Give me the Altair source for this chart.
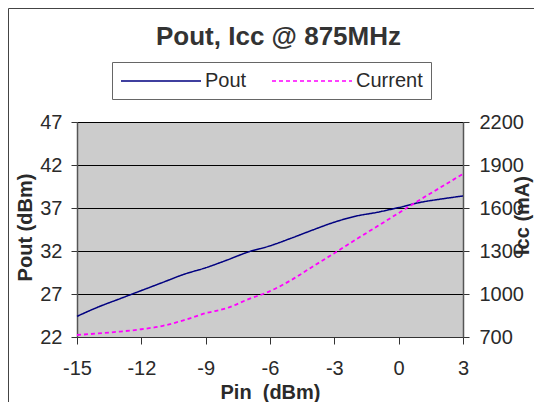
import altair as alt
import pandas as pd

# ---- data ----
pin = [-15, -14, -13, -12, -11, -10, -9, -8, -7, -6, -5, -4, -3, -2, -1, 0, 1, 2, 3]
pout = [24.4, 25.5, 26.45, 27.4, 28.35, 29.3, 30.05, 30.95, 31.9, 32.6,
        33.5, 34.45, 35.35, 36.05, 36.5, 37.05, 37.65, 38.05, 38.4]
current = [714, 725, 738, 754, 778, 818, 866, 902, 964, 1020,
           1098, 1192, 1285, 1380, 1472, 1565, 1658, 1748, 1838]
series_names = ["Pout", "Current"]
title_text = ["Pout, Icc @ 875MHz"]
x_ticks = [-15, -12, -9, -6, -3, 0, 3]
pout_ticks = [22, 27, 32, 37, 42, 47]
icc_ticks = [700, 1000, 1300, 1600, 1900, 2200]

FONT = "Liberation Sans"
TXT = "#2a2a2a"
PLAIN = "'' + datum.value"

df_p = pd.DataFrame({"Pin": pin, "value": pout, "series": "Pout"})
df_c = pd.DataFrame({"Pin": pin, "value": current, "series": "Current"})
df_t = pd.DataFrame({"t": title_text})

color_scale = alt.Scale(domain=series_names, range=["#000080", "#FF00FF"])
dash_scale = alt.Scale(domain=series_names, range=[[1, 0], [4, 3]])

legend = alt.Legend(
    orient="none", legendX=35, legendY=-60, direction="horizontal",
    title=None, symbolType="M-1,0H7", symbolSize=400, symbolStrokeWidth=1.5,
    symbolFillColor="transparent",
    labelFontSize=20, labelFont=FONT, labelColor=TXT,
    strokeColor="#666666", fillColor="white", padding=8,
    columnPadding=22, labelOffset=63,
)

x_enc = alt.X(
    "Pin:Q",
    scale=alt.Scale(domain=[-15, 3], nice=False, zero=False),
    axis=alt.Axis(
        values=x_ticks, title="Pin \u00a0(dBm)", grid=False, labelExpr=PLAIN,
        tickSize=7, labelPadding=14, labelFontSize=20, labelFont=FONT,
        labelColor=TXT, titleFontSize=20, titleFont=FONT, titleFontWeight="bold",
        titleColor=TXT, titleX=193, titleY=61, titleBaseline="alphabetic",
        titleAlign="center", domainColor="#333333", tickColor="#333333",
        labelFlush=False,
    ),
)

pout_line = alt.Chart(df_p).mark_line(strokeWidth=1.5, interpolate="monotone").encode(
    x=x_enc,
    y=alt.Y(
        "value:Q",
        scale=alt.Scale(domain=[22, 47], nice=False, zero=False),
        axis=alt.Axis(
            orient="left", values=pout_ticks, title="Pout (dBm)", labelExpr=PLAIN,
            grid=True, gridColor="black", gridWidth=1,
            tickSize=6, labelPadding=9, labelFontSize=20, labelFont=FONT,
            labelColor=TXT, titleFontSize=20, titleFont=FONT,
            titleFontWeight="bold", titleColor=TXT,
            titleX=-52, titleY=105, titleAngle=270, titleAlign="center",
            titleBaseline="middle", domainColor="#555555", domainWidth=1.5,
            tickColor="#333333", labelFlush=False,
        ),
    ),
    color=alt.Color("series:N", scale=color_scale, legend=legend),
    strokeDash=alt.StrokeDash("series:N", scale=dash_scale, legend=legend),
)

current_line = alt.Chart(df_c).mark_line(strokeWidth=1.8, interpolate="monotone").encode(
    x=x_enc,
    y=alt.Y(
        "value:Q",
        scale=alt.Scale(domain=[700, 2200], nice=False, zero=False),
        axis=alt.Axis(
            orient="right", values=icc_ticks, title="Icc (mA)", grid=False,
            labelExpr=PLAIN,
            tickSize=6, labelPadding=10, labelFontSize=20, labelFont=FONT,
            labelColor=TXT, titleFontSize=20, titleFont=FONT,
            titleFontWeight="bold", titleColor=TXT,
            titleX=65, titleY=93, titleAngle=270, titleAlign="center",
            titleBaseline="alphabetic", domainColor="#555555", domainWidth=1.5,
            tickColor="#333333", labelFlush=False,
        ),
    ),
    color=alt.Color("series:N", scale=color_scale, legend=legend),
    strokeDash=alt.StrokeDash("series:N", scale=dash_scale, legend=legend),
)

title_mark = alt.Chart(df_t).mark_text(
    font=FONT, fontSize=26, fontWeight="bold", color="#333333",
    align="center", baseline="alphabetic",
).encode(x=alt.value(201.5), y=alt.value(-77.5), text="t:N")

border = alt.Chart(df_t).mark_rect(
    filled=False, stroke="#444444", strokeWidth=1,
).encode(x=alt.value(-68.5), x2=alt.value(700), y=alt.value(-113.5), y2=alt.value(500))

chart = alt.layer(border, title_mark, pout_line, current_line).resolve_scale(
    y="independent"
).properties(
    width=386, height=215,
    autosize=alt.AutoSizeParams(type="none"),
    padding={"left": 69, "top": 114, "right": 71, "bottom": 65},
    background="white",
).configure_view(
    fill="#CCCCCC", stroke="#808080", strokeWidth=1,
)

chart.save("out.html", embed_options={"renderer": "svg", "actions": False})
